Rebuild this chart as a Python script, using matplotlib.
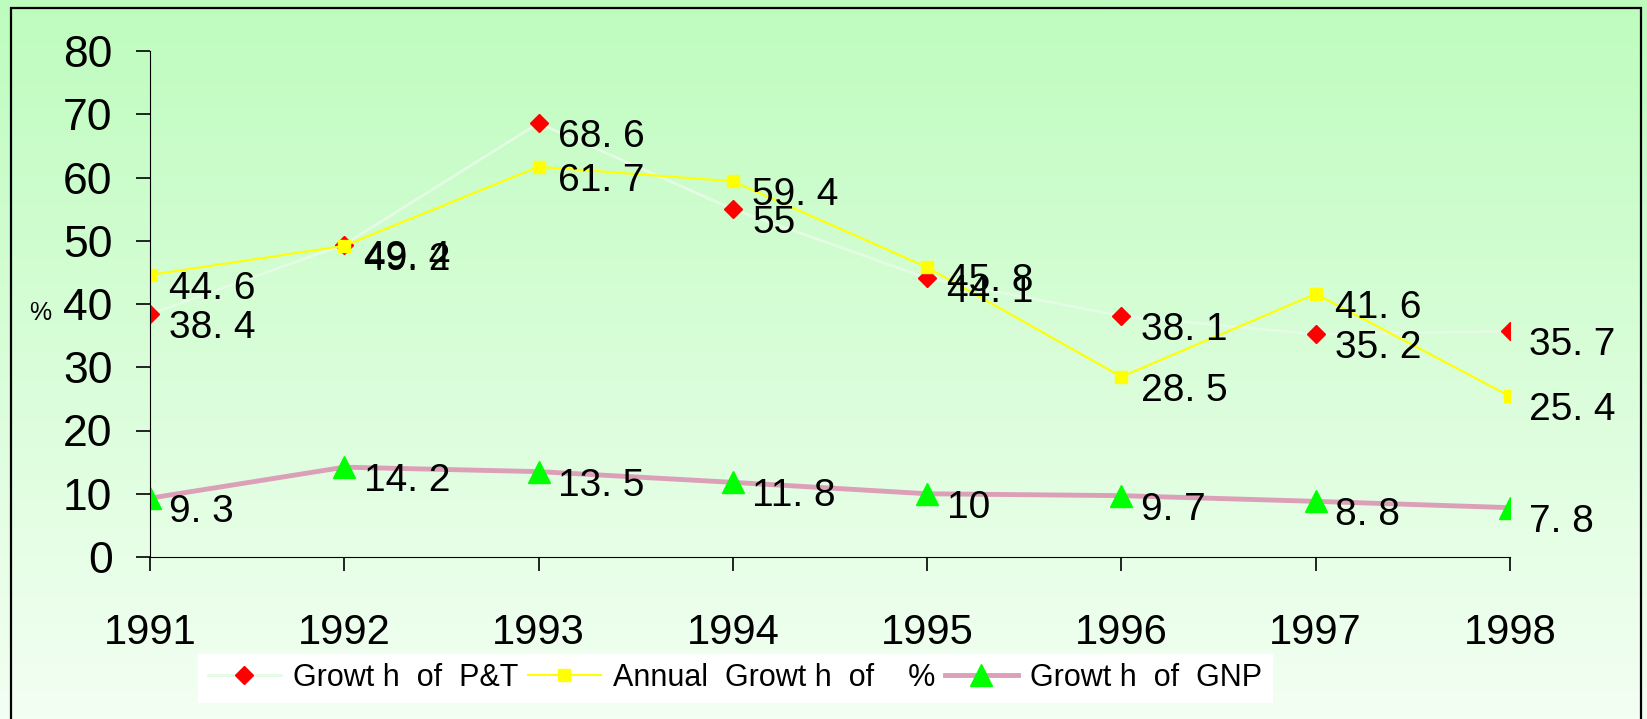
import matplotlib.pyplot as plt
import matplotlib.patches as patches
import numpy as np

years = [1991, 1992, 1993, 1994, 1995, 1996, 1997, 1998]
pt_growth = [38.4, 49.4, 68.6, 55, 44.1, 38.1, 35.2, 35.7]
annual_growth = [44.6, 49.2, 61.7, 59.4, 45.8, 28.5, 41.6, 25.4]
gnp_growth = [9.3, 14.2, 13.5, 11.8, 10, 9.7, 8.8, 7.8]
pt_labels = ["38. 4", "49. 4", "68. 6", "55", "44. 1", "38. 1", "35. 2", "35. 7"]
annual_labels = ["44. 6", "49. 2", "61. 7", "59. 4", "45. 8", "28. 5", "41. 6", "25. 4"]
gnp_labels = ["9. 3", "14. 2", "13. 5", "11. 8", "10", "9. 7", "8. 8", "7. 8"]
legend_names = ["Growt h  of  P&T", "Annual  Growt h  of    %", "Growt h  of  GNP"]

plt.rcParams['font.family'] = ['Liberation Sans', 'DejaVu Sans']

fig = plt.figure(figsize=(16.47, 7.19), dpi=100)

# gradient background
bg = fig.add_axes([0, 0, 1, 1], zorder=-2)
top = np.array([190, 252, 190]) / 255
bottom = np.array([243, 255, 243]) / 255
t = np.linspace(0, 1, 256)[:, None]
grad = top * (1 - t) + bottom * t
bg.imshow(grad[:, None, :], aspect='auto', extent=[0, 1, 0, 1])
bg.set_axis_off()

# outer frame
frame = patches.Rectangle((11 / 1647, -0.01), (1641 - 11) / 1647, 1 - 8 / 719 + 0.01,
                          transform=fig.transFigure, fill=False, edgecolor='black',
                          linewidth=1.6, zorder=-1)
fig.add_artist(frame)

ax = fig.add_axes([150 / 1647, 1 - 557 / 719, (1510 - 150) / 1647, (557 - 51) / 719])
ax.patch.set_alpha(0)

ax.plot(years, pt_growth, color='#e4fbe4', linewidth=2, marker='D',
        markersize=9, markerfacecolor='red', markeredgecolor='red', label=legend_names[0])
ax.plot(years, annual_growth, color='#ffff00', linewidth=1.5, marker='s',
        markersize=8, markerfacecolor='#ffff00', markeredgecolor='#ffff00', label=legend_names[1])
ax.plot(years, gnp_growth, color='#dc9fb8', linewidth=3.5, marker='^',
        markersize=16, markerfacecolor='#00ff00', markeredgecolor='#00ff00', label=legend_names[2])

for vals, labs in [(pt_growth, pt_labels), (annual_growth, annual_labels), (gnp_growth, gnp_labels)]:
    for x, y, s in zip(years, vals, labs):
        ax.annotate(s, (x, y), xytext=(14, -10), textcoords='offset points',
                    ha='left', va='center', fontsize=28, color='black')

ax.set_xlim(1991, 1998)
ax.set_ylim(0, 80)
ax.set_xticks(years)
ax.set_yticks(range(0, 81, 10))
ax.spines['top'].set_visible(False)
ax.spines['right'].set_visible(False)
ax.tick_params(axis='y', length=10, width=1.2, pad=17, labelsize=32)
ax.tick_params(axis='x', length=10, width=1.2, pad=30, labelsize=30)
ax.set_xticklabels([str(y) for y in years])

fig.text(40 / 1647, 1 - 313 / 719, '%', fontsize=18, ha='center', va='center')

leg = ax.legend(loc='center', bbox_to_anchor=((735 - 150) / 1360, (557 - 678) / 506),
                ncol=3, frameon=True, fancybox=False, fontsize=22, handlelength=2.4,
                handletextpad=0.4, columnspacing=0.3, borderpad=0.3)
leg.get_frame().set_facecolor('white')
leg.get_frame().set_edgecolor('white')
leg.get_frame().set_alpha(1)

fig.savefig('out.png', dpi=100)
